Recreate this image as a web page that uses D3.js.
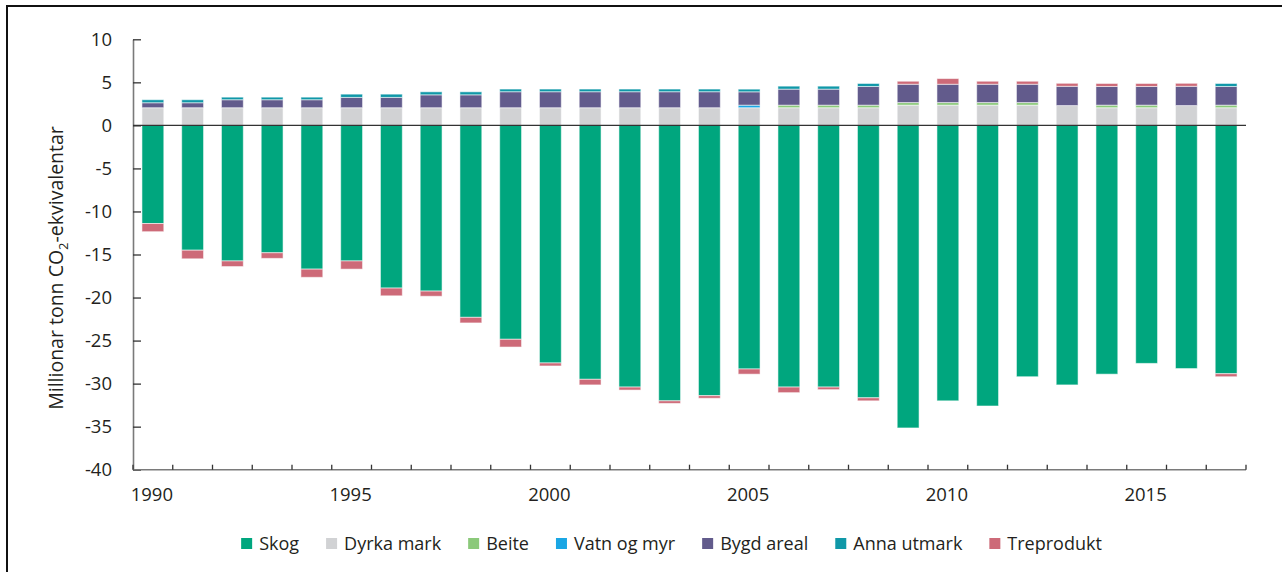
<!DOCTYPE html>
<html>
<head>
<meta charset="utf-8">
<script src="https://cdn.jsdelivr.net/npm/d3@7"></script>
<style>
  body { margin: 0; background: #fff; }
  text { font-family: "Open Sans", Lato, sans-serif; fill: #231f20; }
</style>
</head>
<body>
<div id="chart"></div>
<script>
// years on the x axis
const years = d3.range(1990, 2018);
const seriesNames = ["Skog", "Dyrka mark", "Beite", "Vatn og myr", "Bygd areal", "Anna utmark", "Treprodukt"];
const colors = ["#00a67e", "#d1d2d4", "#8bc97a", "#1aa6e4", "#625b8c", "#1098a8", "#cd6a78"];

// values (million tonnes CO2-eq)
const skog = [-11.4, -14.5, -15.75, -14.8, -16.7, -15.75, -18.9, -19.25, -22.3, -24.85,
  -27.6, -29.5, -30.4, -32.0, -31.4, -28.3, -30.4, -30.4, -31.65, -35.15,
  -32.0, -32.6, -29.2, -30.15, -28.9, -27.65, -28.25, -28.85];
const dyrkaMark = [2.05, 2.05, 2.05, 2.05, 2.05, 2.05, 2.05, 2.05, 2.05, 2.05,
  2.05, 2.05, 2.05, 2.05, 2.05, 2.05, 2.05, 2.05, 2.05, 2.35,
  2.35, 2.35, 2.35, 2.3, 2.05, 2.05, 2.3, 2.05];
const beite = [0, 0, 0, 0, 0, 0, 0, 0, 0, 0,
  0, 0, 0, 0, 0, 0, 0.3, 0.3, 0.3, 0.3,
  0.3, 0.3, 0.3, 0, 0.3, 0.3, 0, 0.3];
const vatnOgMyr = [0, 0, 0, 0, 0, 0, 0, 0, 0, 0,
  0, 0, 0, 0, 0, 0.3, 0, 0, 0, 0,
  0, 0, 0, 0, 0, 0, 0, 0];
const bygdAreal = [0.58, 0.58, 0.93, 0.93, 0.93, 1.2, 1.2, 1.5, 1.5, 1.86,
  1.86, 1.86, 1.86, 1.86, 1.86, 1.55, 1.86, 1.86, 2.17, 2.13,
  2.13, 2.13, 2.13, 2.24, 2.17, 2.17, 2.24, 2.17];
const annaUtmark = [0.35, 0.35, 0.3, 0.3, 0.3, 0.38, 0.38, 0.35, 0.35, 0.31,
  0.31, 0.31, 0.31, 0.31, 0.31, 0.31, 0.35, 0.35, 0.35, 0,
  0, 0, 0, 0, 0, 0, 0, 0.35];
const treprodukt = [-0.95, -1.0, -0.65, -0.65, -0.95, -0.95, -0.9, -0.6, -0.65, -0.9,
  -0.35, -0.65, -0.35, -0.3, -0.3, -0.6, -0.65, -0.3, -0.35, 0.35,
  0.66, 0.35, 0.35, 0.35, 0.35, 0.35, 0.35, -0.35];
const yTicks = [-40, -35, -30, -25, -20, -15, -10, -5, 0, 5, 10];
const xLabels = [1990, 1995, 2000, 2005, 2010, 2015];

const width = 1282;
const height = 572;
const fontSize = 18;

const svg = d3.select("#chart")
  .append("svg")
  .attr("width", width)
  .attr("height", height);

// frame around the figure
svg.append("line").attr("x1", 6).attr("x2", width).attr("y1", 6).attr("y2", 6)
  .attr("stroke", "#111").attr("stroke-width", 2);
svg.append("line").attr("x1", 7).attr("x2", 7).attr("y1", 5).attr("y2", height)
  .attr("stroke", "#111").attr("stroke-width", 2);

const plotLeft = 133, plotRight = 1246, plotTop = 39.3, plotBottom = 469.7;

const x = d3.scaleBand()
  .domain(years)
  .range([plotLeft, plotRight])
  .paddingInner(0.45)
  .paddingOuter(0.225);

const y = d3.scaleLinear()
  .domain([-40, 10])
  .range([plotBottom, plotTop]);

// build rows for the stack
const cols = [skog, dyrkaMark, beite, vatnOgMyr, bygdAreal, annaUtmark, treprodukt];
const rows = years.map((yr, i) => {
  const r = { year: yr };
  seriesNames.forEach((name, j) => { r[name] = cols[j][i]; });
  return r;
});

const stacked = d3.stack()
  .keys(seriesNames)
  .offset(d3.stackOffsetDiverging)(rows);

svg.append("g")
  .selectAll("g")
  .data(stacked)
  .join("g")
  .attr("fill", (d, i) => colors[i])
  .selectAll("rect")
  .data(d => d.filter(p => p[1] !== p[0]))
  .join("rect")
  .attr("x", d => x(d.data.year))
  .attr("width", x.bandwidth())
  .attr("y", d => y(Math.max(d[0], d[1])))
  .attr("height", d => Math.abs(y(d[0]) - y(d[1])))
  .attr("stroke", "#fff")
  .attr("stroke-opacity", 0.55)
  .attr("stroke-width", 1);

// y axis, ticks pointing into the plot
const yAxis = svg.append("g")
  .attr("transform", `translate(${plotLeft},0)`)
  .call(d3.axisLeft(y).tickValues(yTicks).tickFormat(d => String(d))
    .tickSizeInner(-8).tickSizeOuter(0).tickPadding(21));
yAxis.select(".domain").attr("stroke", "#7a7a7a").attr("stroke-width", 1.6);
yAxis.selectAll(".tick line").attr("stroke", "#333").attr("stroke-width", 1.3);
yAxis.selectAll(".tick text")
  .attr("font-size", 18.5)
  .attr("fill", "#231f20")
  .style("font-family", "'Open Sans', Lato, sans-serif");

// zero line
svg.append("line")
  .attr("x1", plotLeft).attr("x2", plotRight)
  .attr("y1", y(0)).attr("y2", y(0))
  .attr("stroke", "#333").attr("stroke-width", 1.3);

// x axis line with ticks on band borders
svg.append("line")
  .attr("x1", plotLeft).attr("x2", plotRight)
  .attr("y1", plotBottom).attr("y2", plotBottom)
  .attr("stroke", "#7a7a7a").attr("stroke-width", 1.6);

const gap = x.step() * x.paddingInner() / 2;
const borders = years.map(yr => x(yr) - gap).concat([plotRight]);
svg.append("g")
  .selectAll("line")
  .data(borders)
  .join("line")
  .attr("x1", d => d).attr("x2", d => d)
  .attr("y1", plotBottom).attr("y2", plotBottom - 5)
  .attr("stroke", "#333").attr("stroke-width", 1.3);

svg.append("g")
  .selectAll("text")
  .data(xLabels)
  .join("text")
  .attr("x", d => x(d) + x.bandwidth() / 2 - 1)
  .attr("y", 501)
  .attr("text-anchor", "middle")
  .attr("font-size", 18.5)
  .text(d => d);

// y axis title
const title = svg.append("text")
  .attr("transform", "translate(63,268) rotate(-90)")
  .attr("text-anchor", "middle")
  .attr("font-size", 19.5);
title.append("tspan").text("Millionar tonn CO");
title.append("tspan").attr("font-size", 13).attr("dy", 5).text("2");
title.append("tspan").attr("dy", -5).text("-ekvivalentar");

// legend
const legend = svg.append("g");
let lx = 0;
seriesNames.forEach((name, i) => {
  const item = legend.append("g").attr("transform", `translate(${lx},0)`);
  item.append("rect")
    .attr("x", 0).attr("y", 538)
    .attr("width", 11).attr("height", 11)
    .attr("fill", colors[i]);
  const t = item.append("text")
    .attr("x", 18).attr("y", 550)
    .attr("font-size", fontSize)
    .text(name);
  lx += 18 + t.node().getComputedTextLength() + 27;
});
const legendWidth = lx - 27;
legend.attr("transform", `translate(${671.5 - legendWidth / 2},0)`);
</script>
</body>
</html>
